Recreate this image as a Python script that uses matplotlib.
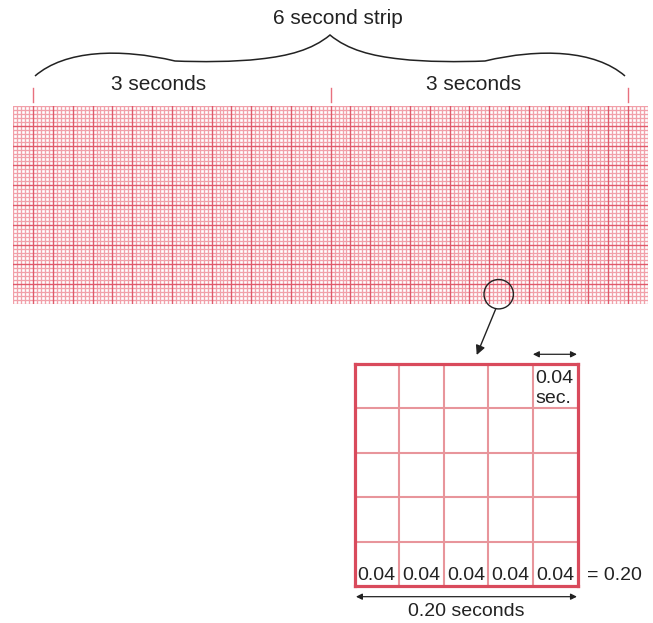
import matplotlib
matplotlib.use("Agg")
import matplotlib.pyplot as plt
from matplotlib.patches import Circle, PathPatch
from matplotlib.path import Path
import numpy as np

plt.rcParams['font.family'] = ['Liberation Sans', 'DejaVu Sans']

# ---- data ----
strip_start_sec = -0.2          # strip begins one large box before the first mark
strip_end_sec = 6.2
small_box_sec = 0.04
large_box_sec = 0.20
strip_height_mm = 50
marks_sec = [0, 3, 6]
strip_title = "6 second strip"
half_labels = ["3 seconds", "3 seconds"]
inset_cells = 5
inset_cell_sec = 0.04
inset_cell_labels = ["0.04", "0.04", "0.04", "0.04", "0.04"]
inset_total_label = "= 0.20"
inset_bottom_label = "0.20 seconds"
inset_top_label = ["0.04", "sec."]

W, H = 653, 623
fig = plt.figure(figsize=(W / 100, H / 100), dpi=100)

minor_c = '#f1a0a9'
major_c = '#df5a6b'
text_c = '#222222'

# ---- strip axes (x in seconds, y in mm) ----
sx0, sx1, sy0, sy1 = 13.2, 648.0, 106.0, 304.0
ax = fig.add_axes([sx0 / W, (H - sy1) / H, (sx1 - sx0) / W, (sy1 - sy0) / H])
ax.set_xlim(strip_start_sec, strip_end_sec)
ax.set_ylim(0, strip_height_mm)
ax.axis('off')

n_v = int(round((strip_end_sec - strip_start_sec) / small_box_sec))
ratio = int(round(large_box_sec / small_box_sec))
for k in range(n_v + 1):
    t = strip_start_sec + k * small_box_sec
    if k % ratio == 0 and 0 < k < n_v:
        ax.axvline(t, color=major_c, lw=1.0, zorder=2)
    else:
        ax.axvline(t, color=minor_c, lw=0.95, zorder=1)
for m in range(strip_height_mm + 1):
    if m % 5 == 0 and 0 < m < strip_height_mm:
        ax.axhline(m, color=major_c, lw=1.0, zorder=2)
    else:
        ax.axhline(m, color=minor_c, lw=0.95, zorder=1)

# marks above strip
ytr = ax.get_xaxis_transform()
for t in marks_sec:
    ax.plot([t, t], [1 + 4 / 198, 1 + 18 / 198], transform=ytr, color='#e8707e',
            lw=1.0, clip_on=False)

# ---- inset axes (x in seconds, y in mm) ----
ix0, ix1, iy0, iy1 = 354.5, 577.5, 363.5, 586.0
ia = fig.add_axes([ix0 / W, (H - iy1) / H, (ix1 - ix0) / W, (iy1 - iy0) / H])
ia.set_xlim(0, inset_cells * inset_cell_sec)
ia.set_ylim(0, inset_cells)
ia.set_xticks([])
ia.set_yticks([])
for s in ia.spines.values():
    s.set_color('#d94a5c')
    s.set_linewidth(2.3)
inner_c = '#e8959b'
for k in range(1, inset_cells):
    ia.axvline(k * inset_cell_sec, color=inner_c, lw=1.5)
    ia.axhline(k, color=inner_c, lw=1.5)

for k, lab in enumerate(inset_cell_labels):
    ia.text((k + 0.5) * inset_cell_sec, 0.14, lab, ha='center', va='baseline',
            fontsize=14, color=text_c)
ia.text(inset_cells * inset_cell_sec + 0.0083, 0.14, inset_total_label,
        ha='left', va='baseline', fontsize=14, color=text_c, clip_on=False)
ia.text(0.162, 4.555, inset_top_label[0], ha='left', va='baseline', fontsize=14, color=text_c)
ia.text(0.162, 4.106, inset_top_label[1], ha='left', va='baseline', fontsize=14, color=text_c)

arrow_kw = dict(arrowstyle='<|-|>', mutation_scale=9, lw=0.9, color=text_c,
                shrinkA=0, shrinkB=0)
ia.annotate('', xy=(0.1995, 5.207), xytext=(0.160, 5.207), arrowprops=arrow_kw,
            annotation_clip=False)
ia.annotate('', xy=(0.1995, -0.24), xytext=(0.0013, -0.24), arrowprops=arrow_kw,
            annotation_clip=False)
ia.text(0.1, -0.58, inset_bottom_label, ha='center', va='center', fontsize=14,
        color=text_c, clip_on=False)

# ---- overlay in pixel coordinates ----
ov = fig.add_axes([0, 0, 1, 1])
ov.set_xlim(0, W)
ov.set_ylim(H, 0)
ov.axis('off')

ov.text(338, 19, strip_title, ha='center', va='center', fontsize=15, color=text_c)
ov.text(159, 85, half_labels[0], ha='center', va='center', fontsize=15, color=text_c)
ov.text(474, 85, half_labels[1], ha='center', va='center', fontsize=15, color=text_c)

# curly brace
cx = 330
left = [(35, 76), (65, 50), (120, 48), (175, 61),
        (200, 62), (235, 62), (260, 59),
        (288, 56), (312, 50), (cx, 35)]
verts = left + [(2 * cx - x, y) for (x, y) in reversed(left[:-1])]
codes = [Path.MOVETO] + [Path.CURVE4] * 9 + [Path.CURVE4] * 9
ov.add_patch(PathPatch(Path(verts, codes), fill=False, lw=1.1, ec=text_c))

# magnifier circle and arrow
ov.add_patch(Circle((498.7, 294.2), 14.7, fill=False, lw=1.0, ec=text_c))
ov.annotate('', xy=(476.7, 355), xytext=(495.7, 309),
            arrowprops=dict(arrowstyle='-|>', mutation_scale=14, lw=1.0,
                            color=text_c, shrinkA=0, shrinkB=0))

fig.savefig('out.png', dpi=100)
